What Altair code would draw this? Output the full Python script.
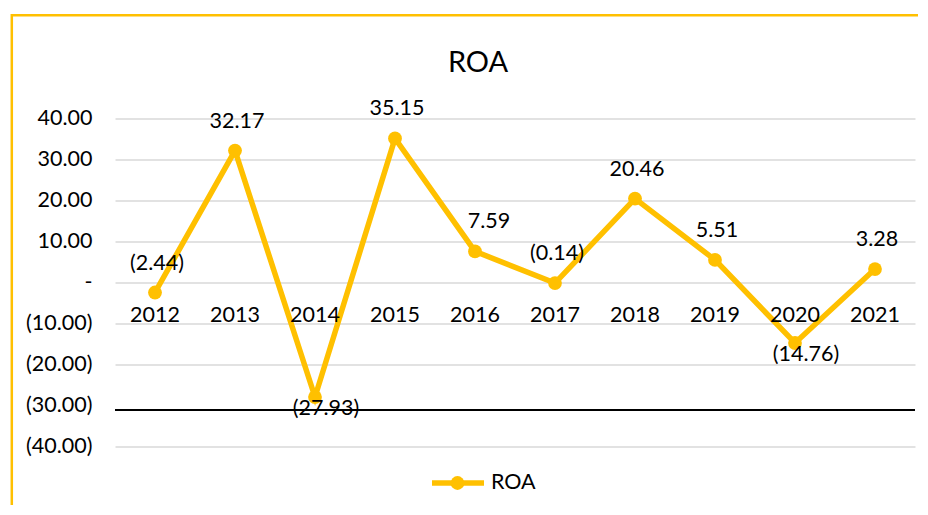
import altair as alt
import pandas as pd

# ---- data ----
years = [2012, 2013, 2014, 2015, 2016, 2017, 2018, 2019, 2020, 2021]
roa = [-2.44, 32.17, -27.93, 35.15, 7.59, -0.14, 20.46, 5.51, -14.76, 3.28]
series_name = "ROA"
y_ticks = [-40, -30, -20, -10, 0, 10, 20, 30, 40]

# label placement groups (style)
labels_below = [2014, 2020]
labels_shifted = [2016]

df = pd.DataFrame({"year": years, "roa": roa})

GOLD = "#FFC000"
FONT = "Lato"
FS = 21.5

label_expr = (
    "datum.value == 0 ? '-\u2007\u00a0' : "
    "datum.value < 0 ? '(' + format(-datum.value, '.2f') + ')' : "
    "format(datum.value, '.2f') + '\u00a0'"
)

x_enc = alt.X("year:O", scale=alt.Scale(padding=0.5), axis=None)
y_enc = alt.Y(
    "roa:Q",
    scale=alt.Scale(domain=[-40, 40], nice=False, zero=False),
    axis=alt.Axis(
        values=y_ticks,
        title=None,
        domain=False,
        ticks=False,
        labelExpr=label_expr,
        labelFont=FONT,
        labelFontSize=FS,
        labelColor="#000000",
        labelPadding=23,
        labelAlign="right",
        gridColor="#d9d9d9",
        gridWidth=1.5,
        gridOpacity={"condition": {"test": "datum.value == -30", "value": 0}, "value": 1},
    ),
)

base = alt.Chart(df)

line = base.mark_line(color=GOLD, strokeWidth=5.5).encode(x=x_enc, y=y_enc)
points = base.mark_circle(color=GOLD, size=190, opacity=1).encode(x="year:O", y="roa:Q")

xlabels = base.mark_text(dy=33, baseline="middle", font=FONT, fontSize=FS, color="#000000").encode(
    x="year:O", y=alt.datum(0), text="year:O"
)

lab_calc = "datum.roa < 0 ? '(' + format(-datum.roa, '.2f') + ')' : format(datum.roa, '.2f')"
below_list = "[" + ",".join(str(y) for y in labels_below) + "]"
shift_list = "[" + ",".join(str(y) for y in labels_shifted) + "]"

lab_above = base.transform_calculate(label=lab_calc).transform_filter(
    f"indexof({below_list}, datum.year) < 0 && indexof({shift_list}, datum.year) < 0"
).mark_text(dy=-29, dx=2, baseline="middle", font=FONT, fontSize=FS, color="#000000").encode(
    x="year:O", y="roa:Q", text="label:N"
)
lab_shift = base.transform_calculate(label=lab_calc).transform_filter(
    f"indexof({shift_list}, datum.year) >= 0"
).mark_text(dy=-29, dx=14, baseline="middle", font=FONT, fontSize=FS, color="#000000").encode(
    x="year:O", y="roa:Q", text="label:N"
)
lab_below = base.transform_calculate(label=lab_calc).transform_filter(
    f"indexof({below_list}, datum.year) >= 0"
).mark_text(dy=12, dx=11, baseline="middle", font=FONT, fontSize=FS, color="#000000").encode(
    x="year:O", y="roa:Q", text="label:N"
)

one = alt.Chart(pd.DataFrame({"k": [0]}))

# horizontal axis line (black)
axis_line = one.mark_rule(color="#000000", strokeWidth=2).encode(
    x=alt.value(0), x2=alt.value(800), y=alt.value(291.5)
)

# chart title
title = one.mark_text(font=FONT, fontSize=29, baseline="middle", align="center", color="#000000").encode(
    x=alt.value(363), y=alt.value(-55.5), text=alt.value(series_name)
)

# legend
leg_line = one.mark_rule(color=GOLD, strokeWidth=5.5).encode(
    x=alt.value(317), x2=alt.value(369), y=alt.value(364.5)
)
leg_dot = one.mark_circle(color=GOLD, size=190, opacity=1).encode(x=alt.value(342.5), y=alt.value(364.5))
leg_text = one.mark_text(font=FONT, fontSize=FS, align="left", baseline="middle", color="#000000").encode(
    x=alt.value(376), y=alt.value(364.5), text=alt.value(series_name)
)

# outer chart frame
frame = one.mark_rect(fillOpacity=0, stroke=GOLD, strokeWidth=2.5).encode(
    x=alt.value(-103.2), x2=alt.value(900), y=alt.value(-103.2), y2=alt.value(500)
)

chart = alt.layer(
    frame, axis_line, line, points, xlabels, lab_above, lab_shift, lab_below,
    title, leg_line, leg_dot, leg_text
).properties(
    width=800,
    height=328,
    autosize=alt.AutoSizeParams(type="none"),
    padding={"left": 107, "top": 110.5, "right": 3, "bottom": 58},
    background="white",
).configure_view(stroke=None)

chart.save("out.html", embed_options={"renderer": "svg", "actions": False})
